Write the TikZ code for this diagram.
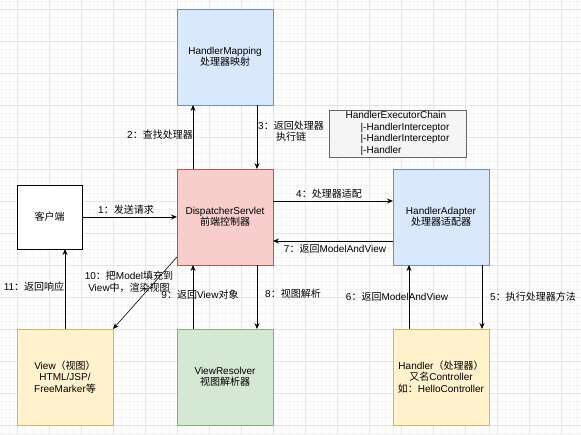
\documentclass[tikz,border=0pt]{standalone}
\usepackage{fontspec}
\setmainfont{Liberation Sans}
\newfontfamily\cjk{Noto Sans CJK SC}
\usetikzlibrary{arrows.meta}
\definecolor{bluefill}{HTML}{DAE8FC}
\definecolor{bluedraw}{HTML}{6C8EBF}
\definecolor{redfill}{HTML}{F8CECC}
\definecolor{reddraw}{HTML}{B85450}
\definecolor{yelfill}{HTML}{FFF2CC}
\definecolor{yeldraw}{HTML}{D6B656}
\definecolor{grnfill}{HTML}{D5E8D4}
\definecolor{grndraw}{HTML}{82B366}
\definecolor{greyfill}{HTML}{F5F5F5}
\definecolor{greydraw}{HTML}{666666}
\newcommand{\zh}[1]{{\cjk #1}}
\tikzset{
  box/.style={draw, line width=0.8pt, minimum width=96pt, minimum height=96pt,
    inner sep=0pt, outer sep=0pt, align=center},
  lbl/.style={inner sep=0pt, align=center},
  flow/.style={->, line width=0.8pt},
}

\begin{document}
\begin{tikzpicture}[x=1pt,y=-1pt,>={Stealth[length=6pt,width=5pt]},
    font=\fontsize{10}{11.5}\selectfont]
  \useasboundingbox[fill=white] (0,0) rectangle (581,434);
  % background grid
  \foreach \g in {1,9,...,581} {
    \draw[black!5, line width=0.5pt] (\g,0) -- (\g,434);
  }
  \foreach \g in {1,9,...,434} {
    \draw[black!5, line width=0.5pt] (0,\g) -- (581,\g);
  }
  \foreach \g in {17,49,...,581} {
    \draw[black!10, line width=0.6pt] (\g,0) -- (\g,434);
  }
  \foreach \g in {9,41,...,434} {
    \draw[black!10, line width=0.6pt] (0,\g) -- (581,\g);
  }

  % boxes
  \node[box, fill=bluefill, draw=bluedraw] (map) at (225,57) {HandlerMapping\\\zh{处理器映射}};
  \node[box, fill=redfill, draw=reddraw] (disp) at (225,217) {DispatcherServlet\\\zh{前端控制器}};
  \node[box, fill=white, draw=black, minimum width=65pt, minimum height=64pt] (client) at (49.5,217) {\zh{客户端}};
  \node[box, fill=bluefill, draw=bluedraw] (adapter) at (441,217) {HandlerAdapter\\\zh{处理器适配器}};
  \node[box, fill=yelfill, draw=yeldraw] (handler) at (441,377) {Handler\zh{（处理器）}\\\zh{又名}Controller\\\zh{如：}HelloController};
  \node[box, fill=yelfill, draw=yeldraw] (view) at (65,377) {View\zh{（视图）}\\HTML/JSP/\\FreeMarker\zh{等}};
  \node[box, fill=grnfill, draw=grndraw] (resolver) at (225,377) {ViewResolver\\\zh{视图解析器}};
  \node[box, fill=greyfill, draw=greydraw, minimum width=137pt, minimum height=47pt, align=left] (chain) at (397.5,133.5)
    {HandlerExecutorChain\\\hspace*{15pt}|-HandlerInterceptor\\\hspace*{15pt}|-HandlerInterceptor\\\hspace*{15pt}|-Handler};

  % connectors
  \draw[flow] (client.east) -- (disp.west);
  \draw[flow] ([xshift=16pt]disp.north west) -- ([xshift=16pt]map.south west);
  \draw[flow] ([xshift=-16pt]map.south east) -- ([xshift=-16pt]disp.north east);
  \draw[flow] ([yshift=-32pt]disp.north east) -- ([yshift=-32pt]adapter.north west);
  \draw[flow] ([xshift=-7pt]adapter.south east) -- ([xshift=-7pt]handler.north east);
  \draw[flow] ([xshift=16pt]handler.north west) -- ([xshift=16pt]adapter.south west);
  \draw[flow] ([yshift=24pt]adapter.south west) -- ([yshift=24pt]disp.south east);
  \draw[flow] ([xshift=-16pt]disp.south east) -- ([xshift=-16pt]resolver.north east);
  \draw[flow] ([xshift=16pt]resolver.north west) -- ([xshift=16pt]disp.south west);
  \draw[flow, line width=0.6pt] ([yshift=8pt]disp.south west) -- (view.north east);
  \draw[flow] (view.north) -- (view.north |- client.south);

  % labels
  \node[lbl] (l1) at (126,210) {1\zh{：发送请求}};
  \node[lbl] (l2) at (160,135) {2\zh{：查找处理器}};
  \node[lbl] (l3) at (291,131) {3\zh{：返回处理器}\\\zh{执行链}};
  \node[lbl] (l4) at (329,194) {4\zh{：处理器适配}};
  \node[lbl] (l5) at (533,297) {5\zh{：执行处理器方法}};
  \node[lbl] (l6) at (397,297) {6\zh{：返回}ModelAndView};
  \node[lbl] (l7) at (335,249) {7\zh{：返回}ModelAndView};
  \node[lbl] (l8) at (293,294) {8\zh{：视图解析}};
  \node[lbl] (l9) at (200,295) {9\zh{：返回}View\zh{对象}};
  \node[lbl] (l10) at (129,282) {10\zh{：把}Model\zh{填充到}\\View\zh{中，渲染视图}};
  \node[lbl] (l11) at (34,287) {11\zh{：返回响应}};
\end{tikzpicture}
\end{document}
